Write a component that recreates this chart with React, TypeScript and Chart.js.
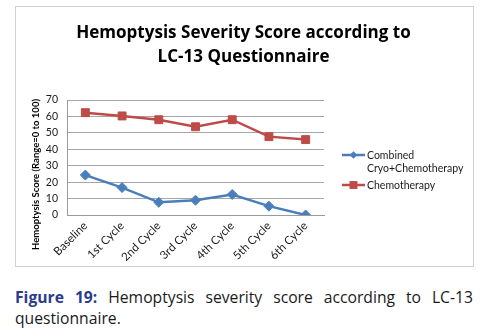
import React, { useEffect, useRef } from "react";
import { Chart, registerables } from "chart.js";

Chart.register(...registerables);

const categories = ["Baseline", "1st Cycle", "2nd Cycle", "3rd Cycle", "4th Cycle", "5th Cycle", "6th Cycle"];
const combinedValues = [24.3, 16.7, 7.7, 9, 12.5, 5.4, 0];
const chemoValues = [62.3, 60.3, 58, 53.7, 58, 47.7, 45.9];
const combinedLabel = ["Combined", "Cryo+Chemotherapy"];
const chemoLabel = ["Chemotherapy"];
const titleLines = ["Hemoptysis Severity Score according to", "LC-13 Questionnaire"];
const yAxisTitle = "Hemoptysis Score (Range=0 to 100)";
const yMin = 0;
const yMax = 70;
const yStep = 10;

const BLUE = "#4a7ebb";
const RED = "#be4b48";
const FONT = "Lato, 'Open Sans', sans-serif";
const TITLE_FONT = "'Open Sans', Lato, sans-serif";

const sidePlugin = {
  id: "sideStuff",
  afterDraw(chart: any) {
    const ctx = chart.ctx as CanvasRenderingContext2D;

    // chart title
    ctx.save();
    ctx.font = `bold 16px ${TITLE_FONT}`;
    const w = ctx.measureText(titleLines[0]).width;
    const size = Math.min(18, (16 * 335) / w);
    ctx.font = `bold ${size.toFixed(2)}px ${TITLE_FONT}`;
    ctx.fillStyle = "#000";
    ctx.textAlign = "center";
    ctx.textBaseline = "middle";
    titleLines.forEach((t, i) => ctx.fillText(t, 227.5, 26.5 + i * 24));
    ctx.restore();

    // y axis title
    ctx.save();
    ctx.translate(20, 167.5);
    ctx.rotate(-Math.PI / 2);
    ctx.font = `bold 9.5px ${FONT}`;
    ctx.fillStyle = "#000";
    ctx.textAlign = "center";
    ctx.textBaseline = "middle";
    ctx.fillText(yAxisTitle, 0, 0);
    ctx.restore();

    // legend
    const items = [
      { lines: combinedLabel, y: 148, color: BLUE, style: "rectRot", r: 4.5 },
      { lines: chemoLabel, y: 178, color: RED, style: "rect", r: 5.6 },
    ];
    ctx.save();
    ctx.font = `10.5px ${FONT}`;
    ctx.textBaseline = "middle";
    ctx.textAlign = "left";
    for (const it of items) {
      ctx.strokeStyle = it.color;
      ctx.lineWidth = 2.5;
      ctx.beginPath();
      ctx.moveTo(326, it.y);
      ctx.lineTo(349, it.y);
      ctx.stroke();
      ctx.fillStyle = it.color;
      const s = it.r / Math.SQRT2;
      ctx.beginPath();
      if (it.style === "rect") {
        ctx.rect(337.5 - s, it.y - s, 2 * s, 2 * s);
      } else {
        ctx.moveTo(337.5 - s * 1.2, it.y);
        ctx.lineTo(337.5, it.y + s * 1.2);
        ctx.lineTo(337.5 + s * 1.2, it.y);
        ctx.lineTo(337.5, it.y - s * 1.2);
        ctx.closePath();
      }
      ctx.fill();
      ctx.fillStyle = "#1a1a1a";
      it.lines.forEach((t, i) => ctx.fillText(t, 351, it.y + 1 + i * 12.5));
    }
    ctx.restore();
  },
};

export default function App() {
  const ref = useRef<HTMLCanvasElement>(null);

  useEffect(() => {
    if (!ref.current) return;
    const chart = new Chart(ref.current, {
      type: "line",
      data: {
        labels: categories,
        datasets: [
          {
            label: combinedLabel.join(" "),
            data: combinedValues,
            borderColor: BLUE,
            backgroundColor: BLUE,
            borderWidth: 2.5,
            pointStyle: "rectRot",
            pointRadius: 5,
            pointBorderWidth: 1,
            pointBorderColor: BLUE,
            tension: 0,
          },
          {
            label: chemoLabel.join(" "),
            data: chemoValues,
            borderColor: RED,
            backgroundColor: RED,
            borderWidth: 2.5,
            pointStyle: "rect",
            pointRadius: 5.6,
            pointBorderWidth: 1,
            pointBorderColor: RED,
            tension: 0,
          },
        ],
      },
      options: {
        animation: false,
        responsive: false,
        devicePixelRatio: 1,
        layout: { padding: { left: 0, right: 149, top: 93, bottom: 0 } },
        plugins: {
          legend: { display: false },
          tooltip: { enabled: false },
          title: { display: false },
        },
        scales: {
          x: {
            offset: true,
            grid: { display: false, drawTicks: false },
            border: { display: true, color: "#9a9a9a", width: 1 },
            ticks: {
              minRotation: 45,
              maxRotation: 45,
              padding: 4,
              color: "#1a1a1a",
              font: { family: FONT, size: 11.5 },
            },
            afterFit: (s: any) => {
              s.height = 51;
            },
          },
          y: {
            min: yMin,
            max: yMax,
            ticks: {
              stepSize: yStep,
              padding: 9,
              color: "#1a1a1a",
              font: { family: FONT, size: 10.5 },
            },
            grid: { color: "#a6a6a6", drawTicks: false, lineWidth: 1 },
            border: { display: true, color: "#9a9a9a", width: 1 },
            afterFit: (s: any) => {
              s.width = 51;
            },
          },
        },
      },
      plugins: [sidePlugin],
    });
    return () => chart.destroy();
  }, []);

  return (
    <div>
      <div
        style={{
          position: "absolute",
          left: 15,
          top: 6,
          width: 459,
          height: 261,
          boxSizing: "border-box",
          border: "1px solid #d0d0d0",
          background: "#fff",
        }}
      >
        <canvas ref={ref} width={457} height={259} style={{ display: "block" }} />
      </div>
      <p
        style={{
          position: "absolute",
          left: 15,
          top: 287,
          width: 458,
          margin: 0,
          fontFamily: "'Open Sans', sans-serif",
          fontSize: 15.7,
          lineHeight: "21px",
          textAlign: "justify",
          color: "#1a1a1a",
        }}
      >
        <b style={{ color: "#2d3b8c" }}>Figure 19:</b> Hemoptysis severity score according to LC-13 questionnaire.
      </p>
    </div>
  );
}
